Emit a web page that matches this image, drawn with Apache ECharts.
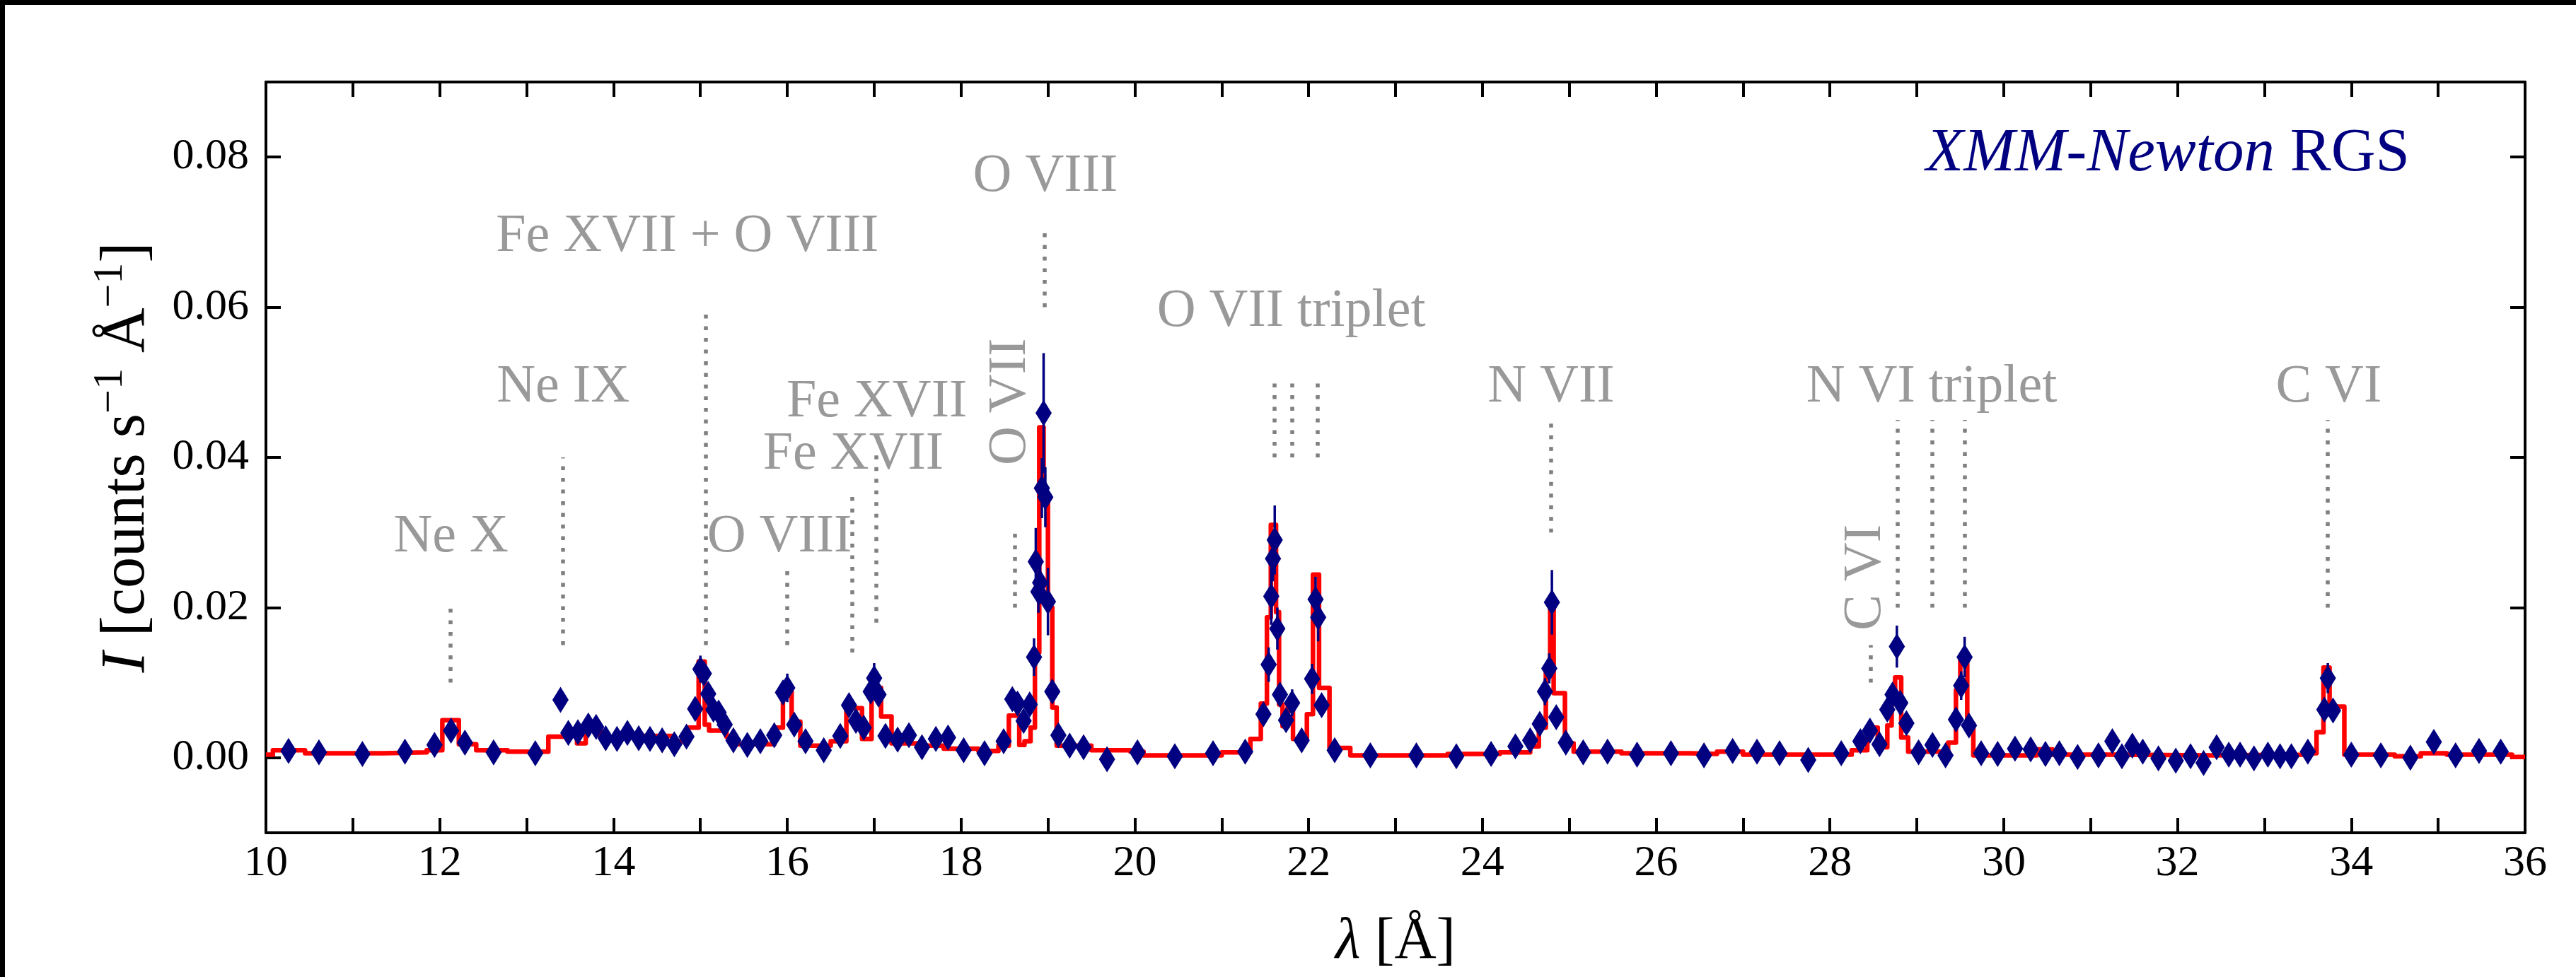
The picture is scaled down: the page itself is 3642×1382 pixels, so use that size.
<!DOCTYPE html>
<html>
<head>
<meta charset="utf-8">
<title>RGS spectrum</title>
<script src="https://cdn.jsdelivr.net/npm/echarts@6/dist/echarts.min.js"></script>
<style>
  html, body { margin: 0; padding: 0; background: #fff; }
  #main { width: 3642px; height: 1382px; }
</style>
</head>
<body>
<div id="main"></div>
<script>
"use strict";

// observed spectrum: wavelength [A], intensity, half error bar
var obsWave = [10.26,10.61,11.11,11.60,11.94,12.13,12.29,12.62,13.10,13.39,13.48,13.59,13.71,13.80,13.91,14.04,14.16,14.29,14.42,14.56,
  14.70,14.84,14.94,15.00,15.04,15.09,15.15,15.21,15.28,15.38,15.54,15.69,15.85,15.95,16.00,16.08,16.21,16.42,16.61,16.71,
  16.79,16.88,16.96,17.00,17.05,17.13,17.27,17.40,17.55,17.71,17.85,18.03,18.27,18.49,18.59,18.65,18.72,18.79,18.84,18.86,
  18.89,18.91,18.93,18.95,18.97,19.00,19.05,19.12,19.25,19.41,19.68,20.03,20.46,20.90,21.27,21.48,21.54,21.57,21.59,21.61,
  21.64,21.67,21.74,21.81,21.92,22.04,22.08,22.11,22.15,22.30,22.71,23.24,23.70,24.10,24.38,24.55,24.66,24.72,24.77,24.80,
  24.85,24.96,25.16,25.44,25.78,26.17,26.55,26.88,27.16,27.42,27.75,28.13,28.35,28.46,28.57,28.66,28.72,28.77,28.81,28.88,
  29.02,29.18,29.33,29.45,29.51,29.55,29.60,29.74,29.93,30.13,30.31,30.48,30.64,30.85,31.09,31.25,31.36,31.48,31.60,31.78,
  31.98,32.15,32.30,32.45,32.59,32.72,32.88,33.04,33.18,33.31,33.50,33.69,33.73,33.79,34.00,34.34,34.68,34.95,35.20,35.47,
  35.72];
var obsFlux = [0.0009,0.0007,0.0005,0.0008,0.0017,0.0036,0.0020,0.0007,0.0006,0.0077,0.0033,0.0034,0.0043,0.0041,0.0026,0.0025,0.0033,0.0026,0.0025,0.0023,
  0.0018,0.0028,0.0065,0.0118,0.0112,0.0085,0.0064,0.0060,0.0044,0.0023,0.0017,0.0022,0.0030,0.0087,0.0093,0.0044,0.0022,0.0010,0.0029,0.0070,
  0.0049,0.0040,0.0088,0.0106,0.0084,0.0029,0.0024,0.0030,0.0014,0.0025,0.0027,0.0010,0.0006,0.0022,0.0078,0.0072,0.0049,0.0071,0.0134,0.0261,
  0.0221,0.0233,0.0359,0.0459,0.0347,0.0208,0.0088,0.0030,0.0016,0.0014,-0.0002,0.0007,0.0002,0.0006,0.0008,0.0058,0.0124,0.0215,0.0265,0.0290,
  0.0172,0.0084,0.0050,0.0073,0.0023,0.0105,0.0211,0.0187,0.0070,0.0010,0.0003,0.0003,0.0002,0.0005,0.0015,0.0023,0.0045,0.0088,0.0119,0.0207,
  0.0054,0.0020,0.0007,0.0008,0.0004,0.0006,0.0003,0.0009,0.0008,0.0006,-0.0003,0.0006,0.0022,0.0036,0.0018,0.0064,0.0084,0.0148,0.0073,0.0046,
  0.0007,0.0017,0.0003,0.0051,0.0096,0.0134,0.0043,0.0006,0.0005,0.0012,0.0011,0.0005,0.0006,0.0001,0.0003,0.0022,0.0002,0.0016,0.0008,-0.0001,
  -0.0004,0.0002,-0.0007,0.0014,0.0004,0.0004,-0.0001,0.0004,0.0002,0.0002,0.0008,0.0064,0.0106,0.0063,0.0004,0.0003,0.0000,0.0021,0.0003,0.0009,
  0.0008];
var obsErr = [0.0006,0.0006,0.0006,0.0006,0.0006,0.0008,0.0006,0.0006,0.0006,0.0010,0.0006,0.0006,0.0006,0.0006,0.0006,0.0006,0.0006,0.0006,0.0006,0.0006,
  0.0006,0.0006,0.0010,0.0018,0.0015,0.0010,0.0008,0.0008,0.0008,0.0006,0.0006,0.0006,0.0006,0.0012,0.0019,0.0008,0.0006,0.0006,0.0006,0.0010,
  0.0008,0.0008,0.0012,0.0020,0.0012,0.0006,0.0006,0.0006,0.0006,0.0006,0.0006,0.0006,0.0006,0.0006,0.0010,0.0010,0.0008,0.0010,0.0025,0.0045,
  0.0028,0.0028,0.0040,0.0080,0.0040,0.0045,0.0012,0.0006,0.0006,0.0006,0.0006,0.0006,0.0006,0.0006,0.0006,0.0010,0.0023,0.0038,0.0030,0.0046,
  0.0028,0.0012,0.0010,0.0018,0.0008,0.0020,0.0030,0.0032,0.0010,0.0006,0.0006,0.0006,0.0006,0.0006,0.0006,0.0006,0.0008,0.0018,0.0020,0.0043,
  0.0010,0.0006,0.0006,0.0006,0.0006,0.0006,0.0006,0.0006,0.0006,0.0006,0.0006,0.0006,0.0006,0.0008,0.0006,0.0010,0.0012,0.0028,0.0012,0.0008,
  0.0006,0.0006,0.0006,0.0010,0.0019,0.0027,0.0008,0.0006,0.0006,0.0006,0.0006,0.0006,0.0006,0.0006,0.0006,0.0006,0.0006,0.0006,0.0006,0.0006,
  0.0006,0.0006,0.0006,0.0006,0.0006,0.0006,0.0006,0.0006,0.0006,0.0006,0.0006,0.0010,0.0020,0.0010,0.0006,0.0006,0.0006,0.0006,0.0006,0.0006,
  0.0006];

// model: bin edges and the level held inside each bin
var modelEdges = [10.00,10.08,10.45,11.35,11.85,12.03,12.22,12.42,12.78,13.25,13.48,13.58,13.68,13.85,14.30,14.70,14.85,14.98,15.05,15.10,
  15.30,15.38,15.85,15.95,16.05,16.15,16.50,16.68,16.86,16.97,17.08,17.20,17.55,17.80,18.20,18.43,18.55,18.67,18.73,18.80,
  18.85,18.90,18.95,19.00,19.05,19.10,19.50,19.95,20.10,21.00,21.33,21.45,21.52,21.565,21.625,21.66,21.70,21.76,21.82,21.98,
  22.05,22.12,22.24,22.48,23.60,24.20,24.55,24.65,24.73,24.78,24.82,24.95,25.05,25.60,26.40,26.70,27.00,28.25,28.43,28.55,
  28.66,28.71,28.75,28.82,28.90,29.36,29.45,29.50,29.58,29.65,30.38,30.56,31.30,32.40,33.45,33.60,33.68,33.75,33.92,34.50,
  34.80,35.10,35.85,36.00];
var modelLevel = [0.0004,0.0010,0.0006,0.0007,0.0010,0.0050,0.0018,0.0010,0.0008,0.0028,0.0038,0.0019,0.0036,0.0027,0.0029,0.0022,0.0040,0.0128,0.0044,0.0036,
  0.0028,0.0018,0.0040,0.0088,0.0048,0.0016,0.0022,0.0066,0.0025,0.0093,0.0055,0.0019,0.0016,0.0012,0.0009,0.0016,0.0056,0.0017,0.0022,0.0040,
  0.0140,0.0440,0.0350,0.0200,0.0067,0.0016,0.0010,0.0008,0.0003,0.0007,0.0025,0.0072,0.0187,0.0310,0.0194,0.0071,0.0042,0.0071,0.0025,0.0058,
  0.0244,0.0093,0.0013,0.0003,0.0005,0.0007,0.0015,0.0040,0.0118,0.0198,0.0086,0.0019,0.0008,0.0006,0.0005,0.0008,0.0004,0.0010,0.0040,0.0014,
  0.0043,0.0090,0.0107,0.0027,0.0008,0.0020,0.0090,0.0130,0.0045,0.0003,0.0011,0.0004,0.0003,0.0004,0.0006,0.0034,0.0120,0.0068,0.0004,0.0002,
  0.0006,0.0004,0.0001];

// line identifications
var markWave = [12.12,13.42,15.06,16.00,16.75,17.02,18.62,18.96,21.61,21.81,22.10,24.79,28.47,28.78,29.18,29.55,33.73];
var markLow  = [0.010,0.015,0.015,0.015,0.014,0.018,0.020,0.060,0.040,0.040,0.040,0.030,0.010,0.020,0.020,0.020,0.020];
var markHigh = [0.020,0.040,0.060,0.025,0.035,0.041,0.030,0.070,0.050,0.050,0.050,0.045,0.015,0.045,0.045,0.045,0.045];

var labelText   = ["Ne X","Ne IX","Fe XVII + O VIII","O VIII","Fe XVII","Fe XVII","O VII","O VIII","O VII triplet","N VII","C VI","N VI triplet","C VI"];
var labelWave   = [12.13,13.42,14.85,15.91,16.76,17.03,18.57,18.97,21.80,24.79,28.41,29.17,33.74];
var labelFlux   = [0.027,0.047,0.067,0.027,0.038,0.045,0.0474,0.075,0.057,0.047,0.024,0.047,0.047];
var labelRotate = [0,0,0,0,0,0,90,0,0,0,90,0,0];

var yTicks = [0, 0.02, 0.04, 0.06, 0.08];

var serif = "Liberation Serif";
var navy = "#000080";
var gray = "#808080";

var modelPts = [];
for (var i = 0; i < modelLevel.length; i++) {
    modelPts.push([modelEdges[i], modelLevel[i]]);
    modelPts.push([modelEdges[i + 1], modelLevel[i]]);
}

var obsPts = obsWave.map(function(w, i) { return [w, obsFlux[i], obsErr[i]]; });

var labelItems = labelText.map(function(t, i) {
    return {
        name: t,
        value: [labelWave[i], labelFlux[i]],
        label: labelRotate[i] ? { rotate: 90, offset: [0, 0] } : { rotate: 0, offset: [0, -25] }
    };
});

var markData = markWave.map(function(w, i) {
    return [{ coord: [w, markLow[i]] }, { coord: [w, markHigh[i]] }];
});

function frameAxis(pos, extra) {
    var a = {
        type: "value",
        position: pos,
        axisLine: { show: true, onZero: false, lineStyle: { color: "#000", width: 4 } },
        axisTick: { show: true, inside: true, length: 21, lineStyle: { color: "#000", width: 4 } },
        axisLabel: { show: false },
        splitLine: { show: false }
    };
    for (var k in extra) a[k] = extra[k];
    return a;
}

var chart = echarts.init(document.getElementById("main"));

chart.setOption({
    animation: false,
    backgroundColor: "#fff",
    textStyle: { fontFamily: serif },
    grid: { left: 376, right: 72, top: 116, bottom: 204, containLabel: false },
    title: {
        text: "{a|XMM-Newton}{b| RGS}",
        right: 235,
        top: 175,
        padding: 0,
        textStyle: {
            fontWeight: "normal",
            rich: {
                a: { fontFamily: serif, fontStyle: "italic", fontWeight: "normal", fontSize: 87, color: navy, lineHeight: 87 },
                b: { fontFamily: serif, fontWeight: "normal", fontSize: 87, color: navy, lineHeight: 87 }
            }
        }
    },
    xAxis: [
        frameAxis("bottom", {
            min: 10, max: 36, interval: 1,
            axisLabel: {
                show: true, margin: 13, fontSize: 62, fontFamily: serif, color: "#000",
                formatter: function(v) { return v % 2 === 0 ? String(v) : ""; }
            },
            name: "{i|λ} [Å]",
            nameLocation: "middle",
            nameGap: 114,
            nameTextStyle: {
                fontFamily: serif, fontSize: 82, color: "#000", lineHeight: 82,
                rich: { i: { fontFamily: serif, fontStyle: "italic", fontSize: 82, lineHeight: 82 } }
            }
        }),
        frameAxis("top", { min: 10, max: 36, interval: 1 })
    ],
    yAxis: [
        frameAxis("left", {
            min: -0.01, max: 0.09,
            axisTick: { show: true, inside: true, length: 21, customValues: yTicks, lineStyle: { color: "#000", width: 4 } },
            axisLabel: {
                show: true, margin: 24, fontSize: 62, fontFamily: serif, color: "#000",
                customValues: yTicks,
                formatter: function(v) { return v.toFixed(2); }
            },
            name: "{i|I} [counts s{s|−1} Å{s|−1}]",
            nameLocation: "middle",
            nameRotate: 90,
            nameGap: 140,
            nameTextStyle: {
                fontFamily: serif, fontSize: 88, color: "#000", lineHeight: 106,
                rich: {
                    i: { fontFamily: serif, fontStyle: "italic", fontSize: 88, lineHeight: 106 },
                    s: { fontFamily: serif, fontSize: 60, lineHeight: 60, verticalAlign: "top" }
                }
            }
        }),
        frameAxis("right", {
            min: -0.01, max: 0.09,
            axisTick: { show: true, inside: true, length: 21, customValues: yTicks, lineStyle: { color: "#000", width: 4 } }
        })
    ],
    series: [
        {
            name: "model",
            type: "line",
            data: modelPts,
            showSymbol: false,
            symbol: "none",
            lineStyle: { color: "#ff0000", width: 6.5, join: "round" },
            z: 2,
            silent: true
        },
        {
            name: "errors",
            type: "custom",
            data: obsPts,
            encode: { x: 0, y: 1 },
            z: 3,
            silent: true,
            renderItem: function(params, api) {
                var x = api.value(0), y = api.value(1), e = api.value(2);
                var top = api.coord([x, y + e]);
                var bot = api.coord([x, y - e]);
                return {
                    type: "line",
                    shape: { x1: top[0], y1: top[1], x2: bot[0], y2: bot[1] },
                    style: { stroke: navy, lineWidth: 3.5 }
                };
            }
        },
        {
            name: "data",
            type: "scatter",
            data: obsPts.map(function(p) { return [p[0], p[1]]; }),
            symbol: "diamond",
            symbolSize: [23, 37],
            itemStyle: { color: navy, opacity: 1 },
            z: 4,
            silent: true
        },
        {
            name: "ids",
            type: "scatter",
            data: labelItems,
            symbol: "circle",
            symbolSize: 1,
            itemStyle: { color: "rgba(0,0,0,0)" },
            silent: true,
            z: 1,
            label: {
                show: true,
                position: "inside",
                formatter: "{b}",
                fontFamily: serif,
                fontSize: 76,
                color: gray,
                align: "center",
                verticalAlign: "middle"
            },
            markLine: {
                silent: true,
                animation: false,
                symbol: ["none", "none"],
                label: { show: false },
                emphasis: { disabled: true },
                lineStyle: { color: gray, width: 5.5, type: [5.5, 11], cap: "butt", opacity: 1 },
                data: markData
            }
        }
    ],
    graphic: [
        { type: "rect", left: 0, top: 0, shape: { width: 3642, height: 7 }, style: { fill: "#000" }, z: 100 },
        { type: "rect", left: 0, top: 0, shape: { width: 7, height: 1382 }, style: { fill: "#000" }, z: 100 }
    ]
});
</script>
</body>
</html>
